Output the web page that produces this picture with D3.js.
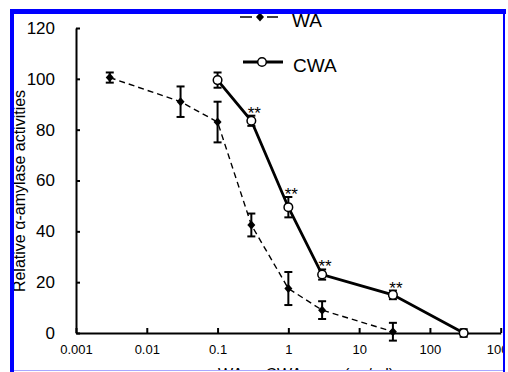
<!DOCTYPE html>
<html>
<head>
<meta charset="utf-8">
<script src="https://d3js.org/d3.v7.min.js"></script>
<style>
  body { margin: 0; background: #fff; }
  svg { display: block; }
</style>
</head>
<body>
<svg id="drawing_region"></svg>
<script>
// WA (filled diamonds, dashed line)
const wa_conc = [0.003, 0.03, 0.1, 0.3, 1, 3, 30];
const wa_mean = [100.5, 91, 83, 42.5, 17.5, 9, 0.5];
const wa_err  = [2, 6, 8, 4.5, 6.5, 3.5, 3.5];

// CWA (open circles, solid line)
const cwa_conc = [0.1, 0.3, 1, 3, 30, 300];
const cwa_mean = [99.5, 83.5, 49.5, 23, 15, 0];
const cwa_err  = [3, 2, 4, 2, 1.7, 1.5];
const cwa_sig  = ['', '**', '**', '**', '**', ''];

const x_ticks = [0.001, 0.01, 0.1, 1, 10, 100, 1000];
const x_tick_labels = ['0.001', '0.01', '0.1', '1', '10', '100', '1000'];
const y_ticks = [0, 20, 40, 60, 80, 100, 120];

const FONT = '"Liberation Sans", Arial, Helvetica, sans-serif';

var config = {
    parent: '#drawing_region',
    width: 508,
    height: 372,
    margin: {top: 28, right: 7.3, bottom: 39, left: 76}
};

class DoseChart {

    constructor( config ) {
        this.config = config;
        this.wa = wa_conc.map( (c, i) => ({x: c, y: wa_mean[i], e: wa_err[i]}) );
        this.cwa = cwa_conc.map( (c, i) => ({x: c, y: cwa_mean[i], e: cwa_err[i], s: cwa_sig[i]}) );
        this.init();
    }

    init() {
        let self = this;
        const m = self.config.margin;

        self.svg = d3.select( self.config.parent )
            .attr('width', self.config.width)
            .attr('height', self.config.height)
            .attr('font-family', FONT);

        self.svg.append('defs').append('clipPath')
            .attr('id', 'frame_clip')
            .append('rect')
            .attr('x', 14).attr('y', 14)
            .attr('width', 489).attr('height', 356);

        self.root = self.svg.append('g').attr('clip-path', 'url(#frame_clip)');

        self.chart = self.root.append('g')
            .attr('transform', `translate(${m.left}, ${m.top})`);

        self.inner_width = self.config.width - m.left - m.right;
        self.inner_height = self.config.height - m.top - m.bottom;

        self.xscale = d3.scaleLog()
            .domain([0.001, 1000])
            .range([0, self.inner_width]);

        self.yscale = d3.scaleLinear()
            .domain([0, 120])
            .range([self.inner_height, 0]);

        self.xaxis = d3.axisBottom( self.xscale )
            .tickValues( x_ticks )
            .tickFormat( (d, i) => x_tick_labels[i] )
            .tickSize(-5)
            .tickSizeOuter(0)
            .tickPadding(12);

        self.yaxis = d3.axisLeft( self.yscale )
            .tickValues( y_ticks )
            .tickSize(-4)
            .tickSizeOuter(0)
            .tickPadding(21);
    }

    render() {
        let self = this;
        const xs = self.xscale, ys = self.yscale;

        // axes
        const xg = self.chart.append('g')
            .attr('transform', `translate(0, ${self.inner_height})`)
            .call( self.xaxis );
        xg.attr('font-size', 13).attr('font-family', FONT);

        const yg = self.chart.append('g')
            .call( self.yaxis );
        yg.attr('font-size', 17).attr('font-family', FONT);

        [xg, yg].forEach( g => {
            g.select('.domain').attr('stroke-width', 2);
            g.selectAll('.tick line').attr('stroke-width', 2);
        });

        // lines
        const line = d3.line()
            .x( d => xs(d.x) )
            .y( d => ys(d.y) );

        self.chart.append('path')
            .attr('d', line(self.wa))
            .attr('fill', 'none')
            .attr('stroke', '#000')
            .attr('stroke-width', 1.4)
            .attr('stroke-dasharray', '6,4');

        self.chart.append('path')
            .attr('d', line(self.cwa))
            .attr('fill', 'none')
            .attr('stroke', '#000')
            .attr('stroke-width', 2.8);

        // error bars
        const all = self.wa.concat(self.cwa);
        const eb = self.chart.append('g')
            .attr('stroke', '#000')
            .attr('stroke-width', 2);
        eb.selectAll('line.v').data(all).join('line')
            .attr('x1', d => xs(d.x)).attr('x2', d => xs(d.x))
            .attr('y1', d => ys(d.y - d.e)).attr('y2', d => ys(d.y + d.e));
        eb.selectAll('line.top').data(all).enter().append('line')
            .attr('x1', d => xs(d.x) - 4).attr('x2', d => xs(d.x) + 4)
            .attr('y1', d => ys(d.y + d.e)).attr('y2', d => ys(d.y + d.e));
        eb.selectAll('line.bot').data(all).enter().append('line')
            .attr('x1', d => xs(d.x) - 4).attr('x2', d => xs(d.x) + 4)
            .attr('y1', d => ys(d.y - d.e)).attr('y2', d => ys(d.y - d.e));

        // markers
        const diamond = 'M0,-4.5L4,0L0,4.5L-4,0Z';
        self.chart.selectAll('path.wa_pt').data(self.wa).enter().append('path')
            .attr('d', diamond)
            .attr('transform', d => `translate(${xs(d.x)}, ${ys(d.y)})`)
            .attr('fill', '#000');

        self.chart.selectAll('circle').data(self.cwa).enter().append('circle')
            .attr('cx', d => xs(d.x))
            .attr('cy', d => ys(d.y))
            .attr('r', 4.3)
            .attr('fill', '#fff')
            .attr('stroke', '#000')
            .attr('stroke-width', 1.5);

        // significance stars
        self.chart.selectAll('text.sig').data(self.cwa.filter(d => d.s)).enter().append('text')
            .attr('x', d => xs(d.x) + 3)
            .attr('y', d => ys(d.y + d.e) + 3)
            .attr('text-anchor', 'middle')
            .attr('font-size', 17)
            .text( d => d.s );

        // legend
        const lg = self.root.append('g');
        lg.append('line').attr('x1', 240).attr('x2', 252).attr('y1', 17).attr('y2', 17)
            .attr('stroke', '#000').attr('stroke-width', 1.5);
        lg.append('line').attr('x1', 267).attr('x2', 278).attr('y1', 17).attr('y2', 17)
            .attr('stroke', '#000').attr('stroke-width', 1.5);
        lg.append('path').attr('d', diamond).attr('transform', 'translate(260,17)').attr('fill', '#000');
        lg.append('text').attr('x', 292).attr('y', 26.5).attr('font-size', 19).text('WA');

        lg.append('line').attr('x1', 243).attr('x2', 283).attr('y1', 62).attr('y2', 62)
            .attr('stroke', '#000').attr('stroke-width', 2.8);
        lg.append('circle').attr('cx', 262).attr('cy', 62).attr('r', 4.3)
            .attr('fill', '#fff').attr('stroke', '#000').attr('stroke-width', 1.5);
        lg.append('text').attr('x', 293).attr('y', 71.5).attr('font-size', 19).text('CWA');

        // axis titles
        self.root.append('text')
            .attr('transform', 'translate(25, 191) rotate(-90)')
            .attr('text-anchor', 'middle')
            .attr('font-size', 16)
            .text('Relative \u03b1-amylase activities');

        self.root.append('text')
            .attr('x', 306)
            .attr('y', 380)
            .attr('text-anchor', 'middle')
            .attr('font-size', 16)
            .text('WA or CWA conc (\u03bcg/ml)');

        // blue frame
        const fr = self.svg.append('g').attr('fill', '#0000ff');
        fr.append('rect').attr('x', 10).attr('y', 9).attr('width', 496).attr('height', 5);
        fr.append('rect').attr('x', 10).attr('y', 9).attr('width', 4).attr('height', 363);
        fr.append('rect').attr('x', 503).attr('y', 9).attr('width', 2).attr('height', 363);
        fr.append('rect').attr('x', 14).attr('y', 370).attr('width', 489).attr('height', 1)
            .attr('fill', '#a8a8ff');
    }
}

const chart = new DoseChart( config );
chart.render();
</script>
</body>
</html>
